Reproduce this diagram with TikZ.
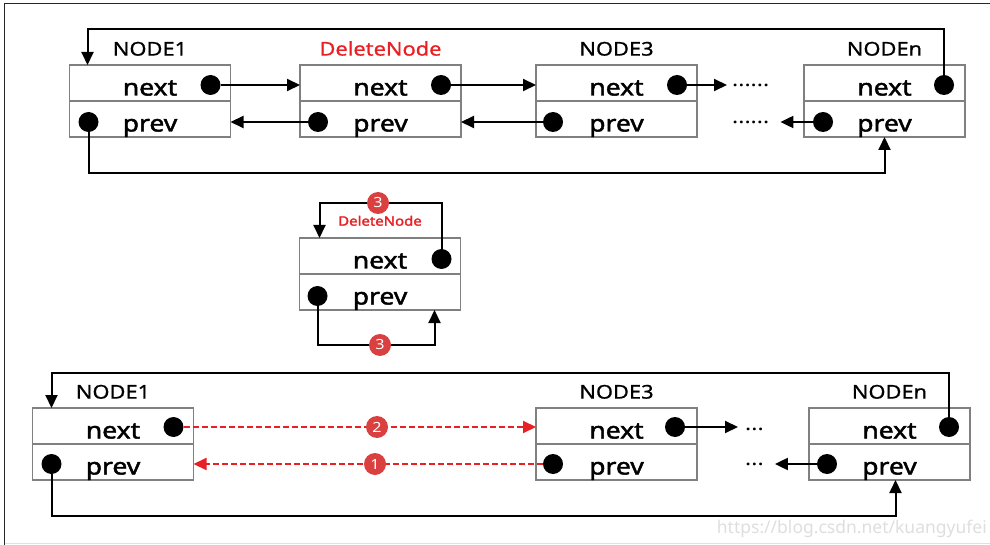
\documentclass[tikz,border=0pt]{standalone}
\usepackage{fontspec}
\setmainfont{Noto Sans}[FakeStretch=1.15, AutoFakeBold=2]
\newfontfamily\titlefont{Noto Sans}[FakeStretch=1.15, FakeBold=0.8]
\newfontfamily\markfont{Noto Sans}
\usetikzlibrary{shapes,arrows.meta}
\usetikzlibrary{positioning}

\definecolor{delred}{RGB}{232,32,36}
\definecolor{badgered}{RGB}{218,64,64}

\tikzset{
  field/.style={draw=black!50, line width=1.2pt, minimum width=161pt, minimum height=36pt,
    inner sep=0pt, outer sep=0pt, text height=25pt, text depth=0pt,
    font=\bfseries\fontsize{23}{25}\selectfont},
  title/.style={inner sep=0pt, font=\titlefont\fontsize{19}{21}\selectfont},
  ptr/.style={circle, fill=black, inner sep=0pt, minimum size=20pt},
  link/.style={line width=2pt, -{Triangle[length=13pt,width=12pt]}},
  cut/.style={link, delred, dash pattern=on 6pt off 3pt},
  badge/.style={circle, fill=badgered, text=white, inner sep=0pt, minimum size=22pt,
    font=\fontsize{14}{14}\selectfont},
  etc/.style={inner sep=1pt, font=\fontsize{20}{22}\selectfont}
}

\begin{document}
\begin{tikzpicture}[x=1pt, y=-1pt]
  \useasboundingbox (0,0) rectangle (990,545);
  % frame
  \draw[black!85, line width=1.6pt] (990,3.5) -- (4.5,3.5) -- (4.5,545);
  \draw[black!12, line width=1pt] (4.5,543.5) -- (990,543.5);

  % ---- upper list, before the delete ----
  % NODE1
  \node[field] (t1next) at (150,83) {next};
  \node[field, below=0pt of t1next] (t1prev) {prev};
  \node[title, above=9pt of t1next] (t1title) {NODE1};
  \node[ptr] (t1nextp) at ([xshift=-20pt,yshift=-2pt]t1next.east) {};
  \node[ptr] (t1prevp) at ([xshift=19pt,yshift=-3pt]t1prev.west) {};
  % DeleteNode
  \node[field] (tdnext) at (380.5,83) {next};
  \node[field, below=0pt of tdnext] (tdprev) {prev};
  \node[title, delred, above=9pt of tdnext] (tdtitle) {DeleteNode};
  \node[ptr] (tdnextp) at ([xshift=-20pt,yshift=-2pt]tdnext.east) {};
  \node[ptr] (tdprevp) at ([xshift=18pt,yshift=-3pt]tdprev.west) {};
  % NODE3
  \node[field] (t3next) at (616.5,83) {next};
  \node[field, below=0pt of t3next] (t3prev) {prev};
  \node[title, above=9pt of t3next] (t3title) {NODE3};
  \node[ptr] (t3nextp) at ([xshift=-20pt,yshift=-2pt]t3next.east) {};
  \node[ptr] (t3prevp) at ([xshift=17pt,yshift=-3pt]t3prev.west) {};
  % NODEn
  \node[field] (tnnext) at (884.5,83) {next};
  \node[field, below=0pt of tnnext] (tnprev) {prev};
  \node[title, above=9pt of tnnext] (tntitle) {NODEn};
  \node[ptr] (tnnextp) at ([xshift=-21pt,yshift=-2pt]tnnext.east) {};
  \node[ptr] (tnprevp) at ([xshift=19pt,yshift=-3pt]tnprev.west) {};
  % gaps in the list
  \node[etc, anchor=west] (tetc1) at (731,88) {\textperiodcentered\textperiodcentered\textperiodcentered\textperiodcentered\textperiodcentered\textperiodcentered};
  \node[etc, anchor=west] (tetc2) at (731,125) {\textperiodcentered\textperiodcentered\textperiodcentered\textperiodcentered\textperiodcentered\textperiodcentered};

  \draw[link] (t1nextp.east) -- (t1nextp -| tdnext.west);
  \draw[link] (tdnextp.east) -- (tdnextp -| t3next.west);
  \draw[link] (t3nextp.east) -- ([xshift=-4pt]t3nextp -| tetc1.west);
  \draw[link] (tdprevp.west) -- (tdprevp -| t1prev.east);
  \draw[link] (t3prevp.west) -- (t3prevp -| tdprev.east);
  \draw[link] (tnprevp.west) -- ([xshift=10pt]tnprevp -| tetc2.east);
  \coordinate (ttrack) at (0,29);
  \coordinate (btrack) at (0,173);
  \draw[link] (tnnextp.center) -- (tnnextp |- ttrack) -| ([xshift=18pt]t1next.north west);
  \draw[link] (t1prevp.center) -- (t1prevp |- btrack) -| (tnprev.south);

  % ---- the node taken out ----
  \node[field] (mnext) at (380,256) {next};
  \node[field, below=0pt of mnext] (mprev) {prev};
  \node[title, delred, above=12pt of mnext, font=\bfseries\fontsize{13}{15}\selectfont] (mtitle) {DeleteNode};
  \node[ptr] (mnextp) at ([xshift=-19pt,yshift=-3pt]mnext.east) {};
  \node[ptr] (mprevp) at ([xshift=18pt,yshift=-4pt]mprev.west) {};
  \coordinate (mtop) at (0,203);
  \coordinate (mbot) at (0,345);
  \draw[link] (mnextp.center) -- (mnextp |- mtop) -| ([xshift=20pt]mnext.north west);
  \draw[link] (mprevp.center) -- (mprevp |- mbot) -| ([xshift=-26pt]mprev.south east);
  \node[badge] (mstep1) at (378,203) {3};
  \node[badge] (mstep2) at (380,345) {3};

  % ---- lower list, after the delete ----
  % NODE1
  \node[field] (b1next) at (113,426) {next};
  \node[field, below=0pt of b1next] (b1prev) {prev};
  \node[title, above=9pt of b1next] (b1title) {NODE1};
  \node[ptr] (b1nextp) at ([xshift=-20pt,yshift=-1pt]b1next.east) {};
  \node[ptr] (b1prevp) at ([xshift=19pt,yshift=-2pt]b1prev.west) {};
  % NODE3
  \node[field] (b3next) at (616.5,426) {next};
  \node[field, below=0pt of b3next] (b3prev) {prev};
  \node[title, above=9pt of b3next] (b3title) {NODE3};
  \node[ptr] (b3nextp) at ([xshift=-22pt,yshift=-1pt]b3next.east) {};
  \node[ptr] (b3prevp) at ([xshift=17pt,yshift=-2pt]b3prev.west) {};
  % NODEn
  \node[field] (bnnext) at (889.5,426) {next};
  \node[field, below=0pt of bnnext] (bnprev) {prev};
  \node[title, above=9pt of bnnext] (bntitle) {NODEn};
  \node[ptr] (bnnextp) at ([xshift=-21pt,yshift=-1pt]bnnext.east) {};
  \node[ptr] (bnprevp) at ([xshift=18pt,yshift=-2pt]bnprev.west) {};
  % gaps in the list
  \node[etc, anchor=west] (betc1) at (744,429) {...};
  \node[etc, anchor=west] (betc2) at (744,467) {\textperiodcentered\textperiodcentered\textperiodcentered};

  \draw[cut] (b1nextp.east) -- (b1nextp -| b3next.west);
  \draw[cut] (b3prevp.west) -- (b3prevp -| b1prev.east);
  \node[badge] (bstep2) at (377,427) {2};
  \node[badge] (bstep1) at (375,464) {1};
  \draw[link] (b3nextp.east) -- ([xshift=-6pt]b3nextp -| betc1.west);
  \draw[link] (bnprevp.west) -- ([xshift=10pt]bnprevp -| betc2.east);
  \coordinate (bttrack) at (0,373);
  \coordinate (bbtrack) at (0,516);
  \draw[link] (bnnextp.center) -- (bnnextp |- bttrack) -| ([xshift=19pt]b1next.north west);
  \draw[link] (b1prevp.center) -- (b1prevp |- bbtrack) -| ([xshift=6pt]bnprev.south);

  % watermark
  \node[anchor=east, inner sep=0pt, text=black!13, font=\markfont\fontsize{17.5}{19}\selectfont] (mark) at (987,529) {https://blog.csdn.net/kuangyufei};
\end{tikzpicture}
\end{document}
